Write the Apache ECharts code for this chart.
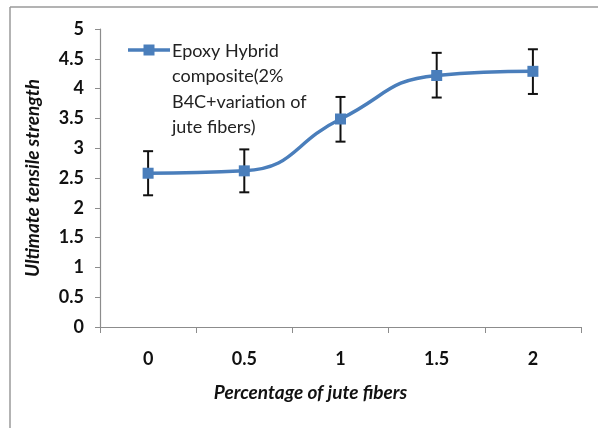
<!DOCTYPE html>
<html>
<head>
<meta charset="utf-8">
<script src="https://cdn.jsdelivr.net/npm/echarts@6/dist/echarts.min.js"></script>
<style>
  html, body { margin: 0; padding: 0; background: #fff; }
  #chart { width: 598px; height: 428px; }
</style>
</head>
<body>
<div id="chart"></div>
<script>
// data
const categories = ['0', '0.5', '1', '1.5', '2']
const strength = [2.58, 2.62, 3.49, 4.22, 4.29]
const errLow = [2.21, 2.26, 3.11, 3.85, 3.91]
const errHigh = [2.95, 2.98, 3.86, 4.60, 4.66]
const legendLines = ['Epoxy Hybrid', 'composite(2%', 'B4C+variation of', 'jute fibers)']

const BLUE = '#4a7ebb'
const FONT = 'Lato, "Open Sans", sans-serif'

const chart = echarts.init(document.getElementById('chart'))

const errData = categories.map((c, i) => [i, errLow[i], errHigh[i]])

const option = {
  animation: false,
  graphic: [
    // thin outer frame (left and top edges only visible)
    { type: 'line', shape: { x1: 10, y1: 7, x2: 598, y2: 7 }, style: { stroke: '#9a9a9a', lineWidth: 1.5 } },
    { type: 'line', shape: { x1: 10, y1: 7, x2: 10, y2: 428 }, style: { stroke: '#9a9a9a', lineWidth: 1.5 } },
    // legend: line sample with square marker + wrapped text
    { type: 'line', shape: { x1: 128, y1: 50, x2: 170, y2: 50 }, style: { stroke: BLUE, lineWidth: 3.5 } },
    { type: 'rect', shape: { x: 143.5, y: 44.5, width: 11, height: 11 }, style: { fill: BLUE } },
    {
      type: 'text',
      left: 172,
      top: 38,
      style: {
        text: legendLines.join('\n'),
        font: '18px ' + FONT,
        fill: '#222',
        lineHeight: 25.5,
      },
    },
  ],
  grid: { left: 100, right: 17, top: 29, bottom: 101 },
  xAxis: {
    type: 'category',
    data: categories,
    boundaryGap: true,
    name: 'Percentage of jute fibers',
    nameLocation: 'middle',
    nameGap: 56,
    nameTextStyle: { fontFamily: FONT, fontSize: 19, fontStyle: 'italic', fontWeight: 'bold', color: '#111', verticalAlign: 'top', padding: [0, 60, 0, 0] },
    axisLine: { lineStyle: { color: '#8c8c8c', width: 1.2 } },
    axisTick: { show: true, alignWithLabel: false, length: 6, lineStyle: { color: '#8c8c8c' } },
    axisLabel: { fontFamily: FONT, fontSize: 18, fontWeight: 'bold', color: '#111', margin: 23 },
  },
  yAxis: {
    type: 'value',
    min: 0,
    max: 5,
    interval: 0.5,
    name: 'Ultimate tensile strength',
    nameLocation: 'middle',
    nameGap: 58,
    nameRotate: 90,
    nameTextStyle: { fontFamily: FONT, fontSize: 19, fontStyle: 'italic', fontWeight: 'bold', color: '#111' },
    axisLine: { show: true, lineStyle: { color: '#8c8c8c', width: 1.2 } },
    axisTick: { show: true, length: 5, lineStyle: { color: '#8c8c8c' } },
    splitLine: { show: false },
    axisLabel: { fontFamily: FONT, fontSize: 18, fontWeight: 'bold', color: '#111', margin: 16 },
  },
  series: [
    {
      name: 'Epoxy',
      type: 'line',
      data: strength,
      smooth: 0.5,
      symbol: 'rect',
      symbolSize: 11,
      lineStyle: { color: BLUE, width: 3.5 },
      itemStyle: { color: BLUE },
      z: 3,
    },
    {
      name: 'err',
      type: 'custom',
      data: errData,
      z: 2,
      renderItem: (params, api) => {
        const lo = api.coord([api.value(0), api.value(1)])
        const hi = api.coord([api.value(0), api.value(2)])
        const x = lo[0]
        const cap = 5
        const style = { stroke: '#111', lineWidth: 2 }
        return {
          type: 'group',
          children: [
            { type: 'line', shape: { x1: x, y1: lo[1], x2: x, y2: hi[1] }, style },
            { type: 'line', shape: { x1: x - cap, y1: lo[1], x2: x + cap, y2: lo[1] }, style },
            { type: 'line', shape: { x1: x - cap, y1: hi[1], x2: x + cap, y2: hi[1] }, style },
          ],
        }
      },
    },
  ],
}

chart.setOption(option)
</script>
</body>
</html>
